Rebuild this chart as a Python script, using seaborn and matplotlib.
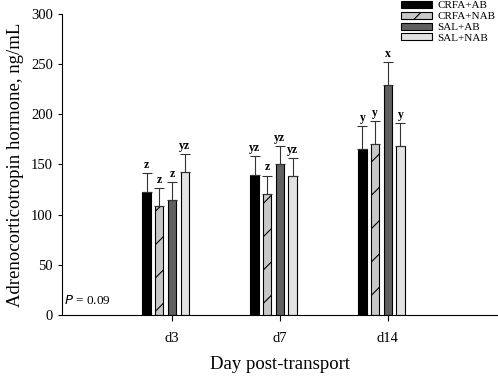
import numpy as np
import pandas as pd
import matplotlib
matplotlib.use("Agg")
import matplotlib.pyplot as plt
import seaborn as sns
from matplotlib.patches import Patch

# Values
days = ["d3", "d7", "d14"]
groups = ["CRFA+AB", "CRFA+NAB", "SAL+AB", "SAL+NAB"]
means = {
    "CRFA+AB": [123, 140, 165],
    "CRFA+NAB": [109, 121, 170],
    "SAL+AB": [115, 150, 229],
    "SAL+NAB": [142, 139, 168],
}
upper = {
    "CRFA+AB": [141, 158, 188],
    "CRFA+NAB": [127, 139, 193],
    "SAL+AB": [133, 168, 252],
    "SAL+NAB": [160, 156, 191],
}
letters = {
    "CRFA+AB": ["z", "yz", "y"],
    "CRFA+NAB": ["z", "z", "y"],
    "SAL+AB": ["z", "yz", "x"],
    "SAL+NAB": ["yz", "yz", "y"],
}

colors = {"CRFA+AB": "#000000", "CRFA+NAB": "#c8c8c8",
          "SAL+AB": "#606060", "SAL+NAB": "#e2e2e2"}

rows = []
for g in groups:
    for i, d in enumerate(days):
        rows.append({"day": d, "group": g, "mean": means[g][i],
                     "upper": upper[g][i], "letter": letters[g][i]})
df = pd.DataFrame(rows)

plt.rcParams["font.family"] = ["Liberation Serif"]
plt.rcParams["hatch.linewidth"] = 0.8

fig = plt.figure(figsize=(4.98, 3.77), dpi=100)
ax = fig.add_axes([0.1245, 0.1645, 0.8755, 0.7985])

sns.barplot(data=df, x="day", y="mean", hue="group", order=days,
            hue_order=groups, palette=colors, width=0.47, gap=0.35,
            errorbar=None, edgecolor="black", linewidth=0.8, legend=False, ax=ax)

# patches come in hue order, each with one bar per day
bars = ax.patches[:len(groups) * len(days)]
for k, g in enumerate(groups):
    sub = df[df.group == g].reset_index(drop=True)
    for i in range(len(days)):
        b = bars[k * len(days) + i]
        if g == "CRFA+NAB":
            b.set_hatch("/")
        xc = b.get_x() + b.get_width() / 2
        top = sub.loc[i, "mean"]
        err = sub.loc[i, "upper"] - top
        ax.errorbar(xc, top, yerr=[[0], [err]], fmt="none", ecolor="#333333",
                    elinewidth=0.8, capsize=3.5, capthick=0.8)
        ax.text(xc, sub.loc[i, "upper"] + 2, sub.loc[i, "letter"], ha="center",
                va="bottom", fontsize=8.5, fontweight="bold")

# tick sits under the third bar of each group
tick_pos = [bars[2 * len(days) + i].get_x() + bars[2 * len(days) + i].get_width() / 2
            for i in range(len(days))]
ax.set_xticks(tick_pos)
ax.set_xticklabels(days, fontsize=10.5)
ax.set_xlim(-0.96, 3.08)
ax.set_ylim(0, 300)
ax.set_yticks(range(0, 301, 50))
ax.tick_params(axis="y", labelsize=10.5, direction="out", length=3, width=0.8)
ax.tick_params(axis="x", direction="out", length=4, width=0.8, pad=8)
ax.spines[["top", "right"]].set_visible(False)
ax.spines[["left", "bottom"]].set_linewidth(0.8)
ax.set_xlabel("Day post-transport", fontsize=13.5, labelpad=8)
ax.set_ylabel("Adrenocorticotropin hormone, ng/mL", fontsize=13.5, labelpad=5)

ax.text(0.005, 0.025, "$P$ = 0.09", transform=ax.transAxes, fontsize=9.5,
        ha="left", va="bottom")

handles = [Patch(facecolor=colors[g], edgecolor="black", linewidth=0.8,
                 hatch="/" if g == "CRFA+NAB" else None, label=g) for g in groups]
fig.legend(handles=handles, loc="upper left", bbox_to_anchor=(0.79, 1.018),
           frameon=False, fontsize=8, handlelength=2.8, handleheight=0.6,
           labelspacing=0.12, handletextpad=0.45, borderpad=0.2)

fig.savefig("out.png", dpi=100)
